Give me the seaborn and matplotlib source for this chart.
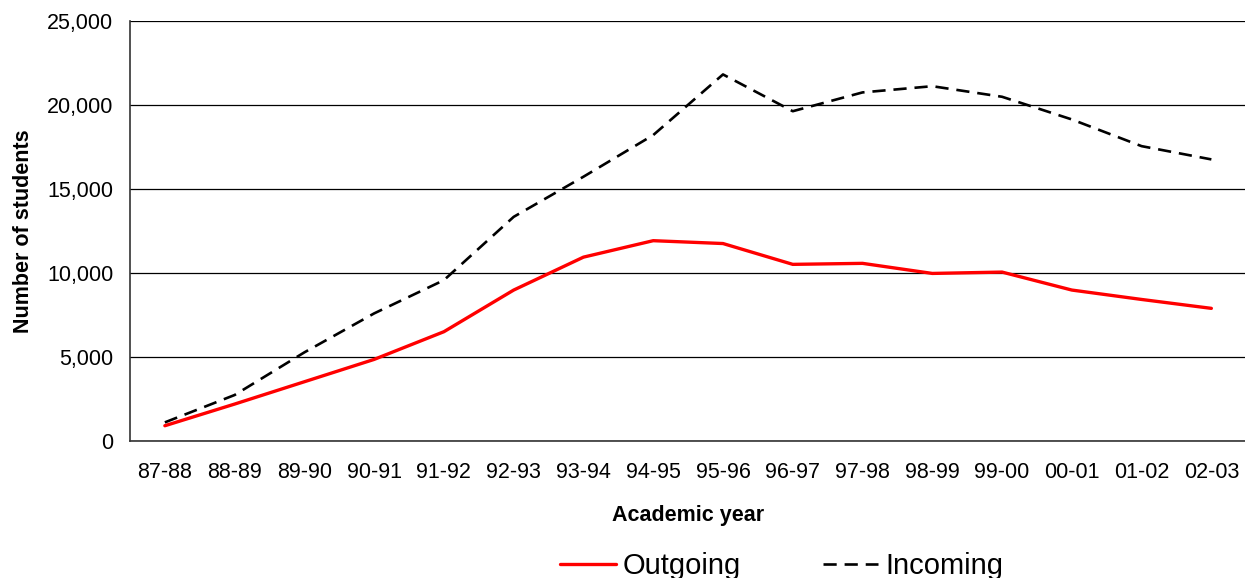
import matplotlib
matplotlib.use("Agg")
import matplotlib.pyplot as plt
import matplotlib.ticker as mticker
import numpy as np
import pandas as pd
import seaborn as sns

# data
years = ["87-88", "88-89", "89-90", "90-91", "91-92", "92-93", "93-94", "94-95",
         "95-96", "96-97", "97-98", "98-99", "99-00", "00-01", "01-02", "02-03"]
outgoing = [910, 2200, 3530, 4860, 6510, 8990, 10950, 11930,
            11760, 10520, 10580, 9980, 10060, 8990, 8430, 7900]
incoming = [1110, 2740, 5280, 7600, 9580, 13350, 15740, 18220,
            21830, 19640, 20760, 21130, 20500, 19150, 17560, 16770]

df = pd.DataFrame({
    "pos": list(range(len(years))) * 2,
    "students": outgoing + incoming,
    "series": ["Outgoing"] * len(years) + ["Incoming"] * len(years),
})

sns.set_style("white")
plt.rcParams["font.family"] = ["Liberation Sans", "DejaVu Sans"]
plt.rcParams["text.color"] = "black"
plt.rcParams["axes.labelcolor"] = "black"
plt.rcParams["xtick.color"] = "black"
plt.rcParams["ytick.color"] = "black"

fig = plt.figure(figsize=(12.45, 5.78), dpi=100)
ax = fig.add_axes([0.1044, 0.237, 0.8966, 0.7263])

sns.lineplot(data=df, x="pos", y="students", hue="series", style="series",
             palette={"Outgoing": "#ff0000", "Incoming": "#000000"},
             dashes={"Outgoing": "", "Incoming": (5, 3)},
             size="series", sizes={"Outgoing": 2.4, "Incoming": 1.9},
             legend=False, ax=ax)

ax.set_xlim(-0.5, len(years) - 0.5)
ax.set_ylim(0, 25000)
ax.yaxis.set_major_locator(mticker.MultipleLocator(5000))
ax.yaxis.set_major_formatter(mticker.FuncFormatter(lambda v, p: f"{int(v):,}"))

# excel-style category axis: tick marks between categories, labels centred
ax.set_xticks(np.arange(-0.5, len(years), 1.0))
ax.set_xticklabels([])
ax.set_xticks(np.arange(len(years)), minor=True)
ax.set_xticklabels(years, minor=True)
ax.tick_params(axis="x", which="major", length=6, width=1, color="#333333", direction="out")
ax.tick_params(axis="x", which="minor", length=0, pad=15, labelsize=15.5)
ax.tick_params(axis="y", length=6, width=1, color="#333333", direction="out", pad=6, labelsize=15.5)

ax.grid(axis="y", color="black", linewidth=0.9)
ax.set_axisbelow(True)
for s in ["top", "right"]:
    ax.spines[s].set_visible(False)
for s in ["left", "bottom"]:
    ax.spines[s].set_color("#333333")
    ax.spines[s].set_linewidth(1.2)

ax.set_xlabel("Academic year", fontsize=15.5, fontweight="bold", labelpad=16)
ax.set_ylabel("Number of students", fontsize=15.5, fontweight="bold", labelpad=9)

handles = [plt.Line2D([], [], color="#ff0000", lw=2.4),
           plt.Line2D([], [], color="black", lw=1.9, linestyle=(0, (5, 3)))]
fig.legend(handles, ["Outgoing", "Incoming"], loc="center", bbox_to_anchor=(0.628, 0.02),
           ncol=2, frameon=False, fontsize=21, handlelength=1.9, handletextpad=0.25,
           columnspacing=2.8)

fig.savefig("out.png", dpi=100)
